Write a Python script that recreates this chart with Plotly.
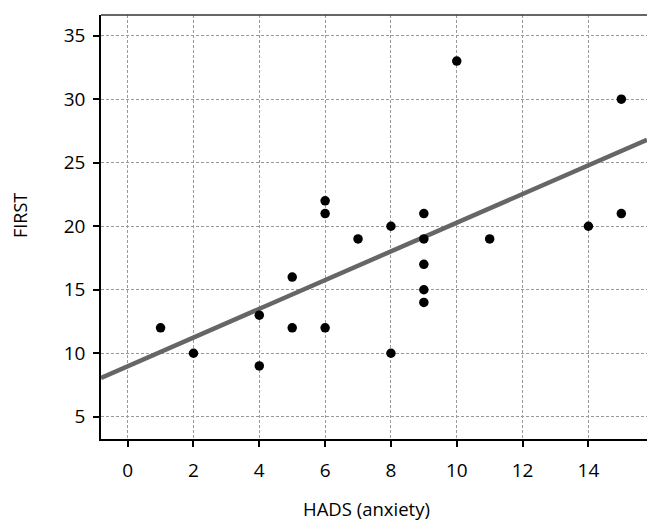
import plotly.graph_objects as go

hads_anxiety = [1, 2, 4, 4, 5, 5, 6, 6, 6, 7, 8, 8, 9, 9, 9, 9, 9, 10, 11, 14, 15, 15]
first = [12, 10, 13, 9, 16, 12, 22, 21, 12, 19, 20, 10, 21, 19, 17, 15, 14, 33, 19, 20, 30, 21]

# fitted line as drawn in the reference
fit_intercept = 8.98
fit_slope = 1.13

x_range = [-0.81, 15.78]
y_range = [3.25, 36.63]

lx = list(x_range)
ly = [fit_intercept + fit_slope * v for v in lx]

fig = go.Figure()
fig.add_trace(go.Scatter(x=lx, y=ly, mode="lines",
                         line=dict(color="#666666", width=4.5), hoverinfo="skip"))
fig.add_trace(go.Scatter(x=hads_anxiety, y=first, mode="markers",
                         marker=dict(color="black", size=9.5)))

axis_common = dict(
    showgrid=True, gridcolor="#9a9a9a", griddash="3px,2px", gridwidth=1,
    zeroline=False, ticks="outside", ticklen=6, tickcolor="black", tickwidth=1.5,
    tickfont=dict(size=19, color="black"), showline=True, linecolor="black",
    linewidth=1.5, automargin=False,
)
fig.update_xaxes(range=x_range, dtick=2, tick0=0, ticklabelstandoff=7, **axis_common)
fig.update_yaxes(range=y_range, dtick=5, tick0=0, ticklabelstandoff=4, **axis_common)
fig.add_shape(type="line", xref="paper", yref="paper", x0=0, x1=1, y0=1, y1=1,
              line=dict(color="#333333", width=1.5))

fig.add_annotation(text="HADS (anxiety)", xref="paper", yref="paper",
                   x=(366 - 101) / 546, y=-(509 - 439) / 424, xanchor="center", yanchor="middle",
                   showarrow=False, font=dict(size=18.5, color="black"))
fig.add_annotation(text="FIRST", xref="paper", yref="paper", textangle=-90,
                   x=-(101 - 20) / 546, y=(439 - 216) / 424, xanchor="center", yanchor="middle",
                   showarrow=False, font=dict(size=18, color="black"))

fig.update_layout(
    width=647, height=523, showlegend=False,
    margin=dict(l=101, r=0, t=15, b=84),
    plot_bgcolor="white", paper_bgcolor="white",
    font=dict(family="Open Sans", color="black"),
)
fig.write_html("out.html", config={"displayModeBar": False},
               post_script="document.body.style.margin='0';document.body.style.overflow='hidden';")
